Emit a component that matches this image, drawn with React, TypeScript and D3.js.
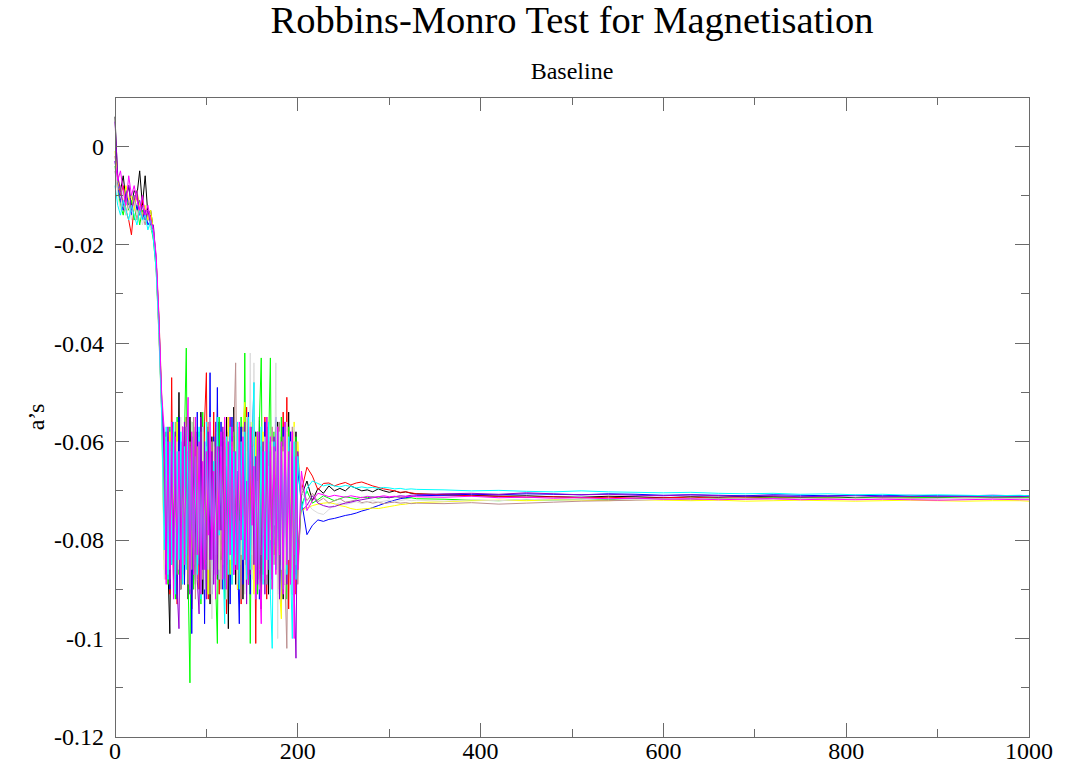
import React from "react";
import * as d3 from "d3";

// Iteration grid shared by every run: dense through the noisy phase, coarser once settled.
const ITERATIONS: number[] = [
  ...d3.range(0, 55, 3),
  ...d3.range(56, 201, 2),
  ...d3.range(204, 325, 6),
  ...d3.range(330, 991, 30),
  1000,
];

// Estimates of a, in thousandths, one array per run
// (warm-up, noisy phase, settling, tail).
const RUN_BLACK = [
  6, -7, -9, -6, -11, -8, -12, -9, -10, -5, -12, -6, -14, -13, -17, -23, -35, -51, -78,
  -58, -86, -99, -56, -88, -61, -84, -50, -90, -57,
  -85, -66, -92, -55, -78, -63, -89, -58, -80, -54,
  -91, -62, -80, -57, -93, -59, -86, -64, -88, -56,
  -84, -60, -90, -55, -98, -61, -85, -53, -89, -66,
  -76, -57, -92, -67, -87, -54, -80, -63, -84, -58,
  -88, -55, -94, -62, -83, -57, -91, -60, -86, -65,
  -81, -56, -89, -59, -92, -61, -85, -54, -88, -63,
  -80, -58, -86,
  -71, -68, -72, -69.5, -70.5, -69, -70, -69.5, -70, -69, -69.5, -70, -69.8, -70.2, -69.6, -70, -70.3, -70, -70.4, -70.2, -70.5,
  -70.6, -70.8, -70.9, -71.1, -71.0, -71.2, -71.3, -71.1, -71.2, -71.4, -71.2, -71.3, -71.1, -71.2, -71.3, -71.2, -71.4, -71.3, -71.2, -71.3, -71.2, -71.3, -71.2, -71.2,
];
const RUN_RED = [
  -2, -6, -10, -8, -13, -15, -18, -12, -10, -14, -11, -13, -15, -14, -18, -24, -37, -53, -62,
  -88, -60, -91, -47, -86, -58, -93, -56, -84, -62,
  -89, -55, -87, -61, -94, -57, -83, -59, -90, -64,
  -85, -56, -46, -92, -60, -88, -54, -86, -63, -91,
  -66, -84, -61, -95, -55, -79, -59, -82, -68, -90,
  -57, -93, -60, -85, -53, -89, -64, -86, -56, -101,
  -59, -88, -62, -84, -55, -92, -58, -87, -61, -83,
  -57, -90, -63, -85, -54, -89, -51, -94, -60, -86,
  -58, -91, -64,
  -70, -65.2, -67, -69.8, -68.5, -68.4, -69, -68.6, -68.3, -68.8, -68.4, -68.2, -68.6, -69, -69.3, -69.6, -69.8, -70, -70.3, -70.2, -70.4,
  -70.6, -70.8, -71.0, -71.1, -71.3, -71.2, -71.4, -71.3, -71.5, -71.4, -71.3, -71.5, -71.4, -71.3, -71.5, -71.4, -71.6, -71.5, -71.4, -71.5, -71.4, -71.5, -71.5, -71.4,
];
const RUN_GREEN = [
  -4, -9, -12, -14, -10, -13, -11, -15, -12, -16, -13, -15, -14, -16, -19, -25, -38, -54, -84,
  -62, -89, -57, -85, -60, -92, -55, -87, -63, -84,
  -59, -41, -88, -109, -56, -90, -61, -83, -58, -93,
  -54, -86, -62, -91, -57, -85, -60, -88, -101, -55,
  -80, -59, -92, -66, -84, -61, -77, -58, -86, -67,
  -90, -55, -83, -42, -88, -60, -101, -57, -85, -62,
  -91, -56, -43, -87, -59, -84, -61, -43, -90, -58,
  -86, -62, -89, -55, -83, -60, -92, -57, -85, -64,
  -88, -59, -82,
  -73, -70, -72.5, -71.8, -71, -71.5, -72, -71.6, -71.2, -71.4, -71.6, -71.3, -71.4, -71.2, -71.5, -71.3, -71.4, -71.2, -71.3, -71.5, -71.4,
  -71.6, -71.7, -71.9, -72.0, -71.8, -71.9, -71.7, -71.8, -71.6, -71.7, -71.5, -71.6, -71.5, -71.4, -71.5, -71.4, -71.5, -71.3, -71.4, -71.3, -71.4, -71.3, -71.4, -71.3,
];
const RUN_BLUE = [
  -3, -8, -11, -13, -9, -12, -14, -10, -13, -11, -15, -13, -16, -15, -18, -24, -36, -52, -60,
  -87, -59, -90, -56, -84, -62, -92, -55, -86, -60,
  -89, -57, -83, -61, -99, -58, -88, -54, -85, -63,
  -57, -97, -60, -86, -46, -91, -59, -84, -49, -88,
  -56, -90, -62, -85, -58, -93, -55, -87, -61, -83,
  -97, -57, -89, -60, -86, -54, -91, -63, -48, -88,
  -65, -92, -61, -78, -56, -89, -68, -86, -62, -81,
  -55, -85, -60, -93, -57, -88, -63, -84, -58, -91,
  -61, -87, -66,
  -72, -78.9, -77, -75.9, -76.2, -75.8, -75.6, -75.3, -75.0, -74.8, -74.5, -74.1, -73.8, -73.4, -73.0, -72.6, -72.2, -71.9, -71.6, -71.4, -71.2,
  -71.0, -70.9, -70.7, -70.8, -70.6, -70.7, -70.8, -70.6, -70.7, -70.9, -70.8, -70.9, -71.0, -70.8, -70.9, -71.0, -70.9, -71.0, -70.9, -71.0, -71.0, -70.9, -71.0, -71.0,
];
const RUN_YELLOW = [
  -1, -7, -9, -12, -8, -11, -10, -13, -9, -12, -14, -12, -15, -13, -17, -23, -34, -50, -86,
  -60, -86, -58, -83, -62, -89, -56, -85, -61, -88,
  -64, -84, -63, -79, -59, -82, -55, -77, -66, -88,
  -58, -85, -62, -91, -56, -83, -61, -89, -57, -86,
  -63, -84, -59, -92, -55, -87, -60, -82, -58, -90,
  -62, -85, -57, -52, -88, -61, -84, -56, -91, -59,
  -86, -62, -83, -58, -89, -55, -85, -60, -87, -63,
  -82, -57, -90, -96, -61, -86, -58, -84, -62, -88,
  -56, -85, -60,
  -74, -73.5, -73, -72.7, -72.5, -72.4, -72.6, -73, -73.2, -73.6, -73.8, -73.7, -73.6, -73.5, -73.6, -73.4, -73.2, -73.0, -72.8, -72.7, -72.5,
  -72.4, -72.2, -72.0, -71.9, -72.0, -71.8, -71.9, -72.0, -71.8, -71.9, -72.0, -71.9, -72.1, -72.0, -71.9, -72.0, -72.1, -72.0, -71.9, -72.0, -72.1, -72.0, -72.0, -72.1,
];
const RUN_BROWN = [
  -5, -9, -8, -12, -14, -11, -13, -10, -15, -12, -14, -16, -13, -17, -16, -24, -37, -53, -66,
  -85, -58, -88, -61, -84, -56, -87, -62, -90, -59,
  -83, -57, -89, -60, -86, -55, -92, -61, -85, -58,
  -88, -63, -84, -56, -91, -60, -87, -57, -83, -62,
  -90, -58, -86, -61, -84, -55, -89, -59, -44, -87,
  -60, -92, -57, -85, -62, -88, -56, -83, -61, -90,
  -58, -78, -63, -84, -67, -89, -60, -80, -57, -85,
  -62, -91, -56, -84, -59, -88, -102, -61, -86, -57,
  -83, -60, -89,
  -69, -72, -70.5, -72.2, -71.5, -72.5, -72, -71.6, -72.3, -72.1, -71.8, -72.4, -72.2, -72.5, -72.3, -72.6, -72.4, -72.3, -72.5, -72.4, -72.6,
  -72.5, -72.6, -72.4, -72.7, -72.5, -72.3, -72.1, -72.0, -71.9, -71.7, -71.8, -71.6, -71.7, -71.5, -71.6, -71.5, -71.6, -71.4, -71.5, -71.6, -71.4, -71.5, -71.5, -71.5,
];
const RUN_GREY = [
  -2, -10, -13, -9, -14, -12, -15, -11, -14, -12, -16, -14, -13, -17, -17, -25, -38, -55, -88,
  -59, -87, -62, -84, -57, -90, -60, -86, -55, -88,
  -61, -83, -58, -91, -56, -85, -62, -89, -59, -84,
  -57, -90, -61, -86, -55, -96, -60, -83, -58, -88,
  -62, -85, -56, -92, -59, -84, -61, -87, -57, -89,
  -60, -83, -58, -91, -55, -86, -42, -88, -44, -85,
  -68, -90, -57, -79, -59, -87, -65, -92, -60, -77,
  -44, -100, -58, -86, -62, -89, -56, -84, -60, -91,
  -57, -85, -63,
  -70, -72.5, -73.8, -74.5, -74.8, -73.8, -72.8, -72.4, -72.8, -72.5, -72.2, -72.6, -72.3, -72.0, -72.3, -72.1, -71.9, -72.2, -72.0, -71.8, -72.0,
  -71.9, -72.1, -71.8, -72.0, -71.7, -71.9, -71.8, -71.6, -71.8, -71.7, -71.5, -71.7, -71.6, -71.8, -71.6, -71.7, -71.5, -71.6, -71.7, -71.6, -71.5, -71.6, -71.6, -71.6,
];
const RUN_VIOLET = [
  5, -6, -9, -12, -10, -8, -13, -11, -9, -14, -12, -15, -13, -16, -16, -23, -35, -52, -64,
  -86, -57, -89, -61, -84, -58, -90, -98, -60, -87,
  -56, -85, -62, -91, -59, -83, -57, -88, -95, -55,
  -86, -60, -92, -58, -84, -62, -89, -56, -87, -61,
  -78, -57, -90, -65, -85, -55, -81, -62, -86, -66,
  -88, -60, -84, -56, -93, -61, -87, -57, -85, -63,
  -89, -58, -83, -60, -91, -55, -86, -62, -88, -59,
  -84, -57, -92, -61, -85, -56, -89, -60, -87, -58,
  -90, -104, -62,
  -74, -73, -71, -72.5, -73, -73.3, -73.2, -72.8, -72.5, -72.3, -72.0, -71.8, -71.6, -71.4, -71.2, -71.3, -71.4, -71.2, -71.0, -71.1, -70.9,
  -70.8, -70.6, -70.5, -70.7, -70.4, -70.6, -70.8, -70.7, -70.9, -71.0, -70.8, -71.0, -71.1, -71.0, -71.2, -71.1, -71.0, -71.2, -71.1, -71.2, -71.1, -71.2, -71.2, -71.1,
];
const RUN_CYAN = [
  -8, -12, -14, -11, -13, -15, -12, -14, -16, -13, -15, -14, -17, -15, -19, -25, -37, -54, -82,
  -57, -88, -60, -85, -56, -91, -62, -84, -58, -89,
  -61, -86, -55, -90, -59, -83, -63, -87, -57, -92,
  -67, -85, -56, -78, -62, -84, -64, -91, -55, -79,
  -61, -83, -97, -59, -87, -57, -89, -62, -85, -56,
  -90, -60, -84, -58, -88, -55, -86, -61, -48, -92,
  -59, -85, -57, -89, -62, -84, -56, -91, -102, -60,
  -86, -58, -83, -61, -90, -57, -87, -59, -85, -100,
  -60, -88, -63,
  -74, -69.5, -68, -68.5, -69, -68.7, -69, -69.2, -68.9, -69.1, -69.4, -69.2, -69.4, -69.3, -69.5, -69.3, -69.4, -69.6, -69.5, -69.7, -69.6,
  -69.7, -69.8, -70.0, -69.9, -70.1, -70.2, -70.0, -70.2, -70.3, -70.4, -70.3, -70.5, -70.6, -70.5, -70.7, -70.6, -70.8, -70.7, -70.9, -70.8, -70.9, -71.0, -70.9, -71.0,
];
const RUN_MAGENTA = [
  -3, -7, -5, -9, -12, -6, -10, -8, -11, -13, -10, -14, -12, -15, -17, -22, -34, -50, -58,
  -89, -60, -86, -56, -92, -59, -84, -62, -88, -57,
  -85, -61, -51, -90, -58, -87, -55, -83, -60, -91,
  -64, -86, -62, -79, -56, -84, -66, -92, -61, -78,
  -58, -88, -55, -90, -60, -83, -57, -87, -62, -86,
  -56, -80, -59, -84, -68, -89, -57, -77, -65, -92,
  -58, -86, -97, -62, -88, -55, -84, -59, -90, -61,
  -87, -57, -83, -60, -91, -56, -85, -62, -89, -58,
  -100, -63, -86,
  -66, -74, -72, -70.5, -70.8, -71.2, -70.9, -71.1, -71.3, -71.0, -71.2, -71.4, -71.1, -71.3, -71.2, -71.0, -71.2, -71.1, -71.3, -71.2, -71.1,
  -71.2, -71.3, -71.1, -71.4, -71.3, -71.5, -71.4, -71.6, -71.5, -71.7, -71.6, -71.8, -71.7, -71.6, -71.8, -71.7, -71.8, -71.7, -71.8, -71.9, -71.8, -71.7, -71.8, -71.8,
];

const RUNS = [RUN_BLACK, RUN_RED, RUN_GREEN, RUN_BLUE, RUN_YELLOW, RUN_BROWN, RUN_GREY, RUN_VIOLET, RUN_CYAN, RUN_MAGENTA];
const RUN_COLORS = ["#000000", "#ff0000", "#00ff00", "#0000ff", "#ffff00", "#bc8f8f", "#dcdcdc", "#9400d3", "#00ffff", "#ff00ff"];

const X_TICKS = [0, 200, 400, 600, 800, 1000];
const X_MINOR = [100, 300, 500, 700, 900];
const Y_TICKS = [0, -0.02, -0.04, -0.06, -0.08, -0.1, -0.12];
const Y_TICK_LABELS = ["0", "-0.02", "-0.04", "-0.06", "-0.08", "-0.1", "-0.12"];
const Y_MINOR = [-0.01, -0.03, -0.05, -0.07, -0.09, -0.11];

const TITLE = "Robbins-Monro Test for Magnetisation";
const SUBTITLE = "Baseline";
const Y_LABEL = "a\u2019s";

const W = 1084;
const H = 765;
const M = { left: 115, right: 1029, top: 97, bottom: 737 };
const FONT = "'Liberation Serif', 'Times New Roman', serif";
const AXIS = "#6a6a6a";

export default function App() {
  const x = d3.scaleLinear().domain([0, 1000]).range([M.left, M.right]);
  const y = d3.scaleLinear().domain([-0.12, 0.01]).range([M.bottom, M.top]);

  const line = d3
    .line<number>()
    .x((_, i) => x(ITERATIONS[i]))
    .y((v) => y(v / 1000));

  const major = 14;
  const minor = 8;

  return (
    <svg
      width={W}
      height={H}
      style={{ position: "absolute", left: 0, top: 0, background: "#fff" }}
      fontFamily={FONT}
    >
      <rect x={0} y={0} width={W} height={H} fill="#fff" />

      <text x={(M.left + M.right) / 2} y={33} textAnchor="middle" fontSize={38.5} fill="#000">
        {TITLE}
      </text>
      <text x={(M.left + M.right) / 2} y={79} textAnchor="middle" fontSize={24} fill="#000">
        {SUBTITLE}
      </text>

      <g>
        {RUNS.map((run, i) => (
          <path key={i} d={line(run) ?? ""} fill="none" stroke={RUN_COLORS[i]} strokeWidth={1} />
        ))}
      </g>

      <g stroke={AXIS} strokeWidth={1} shapeRendering="crispEdges">
        <rect x={M.left} y={M.top} width={M.right - M.left} height={M.bottom - M.top} fill="none" />
        {Y_TICKS.map((t) => (
          <g key={`ym${t}`}>
            <line x1={M.left} x2={M.left + major} y1={y(t)} y2={y(t)} />
            <line x1={M.right} x2={M.right - major} y1={y(t)} y2={y(t)} />
          </g>
        ))}
        {Y_MINOR.map((t) => (
          <g key={`yn${t}`}>
            <line x1={M.left} x2={M.left + minor} y1={y(t)} y2={y(t)} />
            <line x1={M.right} x2={M.right - minor} y1={y(t)} y2={y(t)} />
          </g>
        ))}
        {X_TICKS.map((t) => (
          <g key={`xm${t}`}>
            <line x1={x(t)} x2={x(t)} y1={M.bottom} y2={M.bottom - major} />
            <line x1={x(t)} x2={x(t)} y1={M.top} y2={M.top + major} />
          </g>
        ))}
        {X_MINOR.map((t) => (
          <g key={`xn${t}`}>
            <line x1={x(t)} x2={x(t)} y1={M.bottom} y2={M.bottom - minor} />
            <line x1={x(t)} x2={x(t)} y1={M.top} y2={M.top + minor} />
          </g>
        ))}
      </g>

      <g fontSize={24} fill="#000">
        {Y_TICKS.map((t, i) => (
          <text key={`yl${t}`} x={M.left - 11} y={y(t)} dy="0.35em" textAnchor="end">
            {Y_TICK_LABELS[i]}
          </text>
        ))}
        {X_TICKS.map((t) => (
          <text key={`xl${t}`} x={x(t)} y={759} textAnchor="middle">
            {t}
          </text>
        ))}
      </g>

      <text
        transform={`translate(44, ${(M.top + M.bottom) / 2}) rotate(-90)`}
        textAnchor="middle"
        fontSize={24}
        fill="#000"
      >
        {Y_LABEL}
      </text>
    </svg>
  );
}
